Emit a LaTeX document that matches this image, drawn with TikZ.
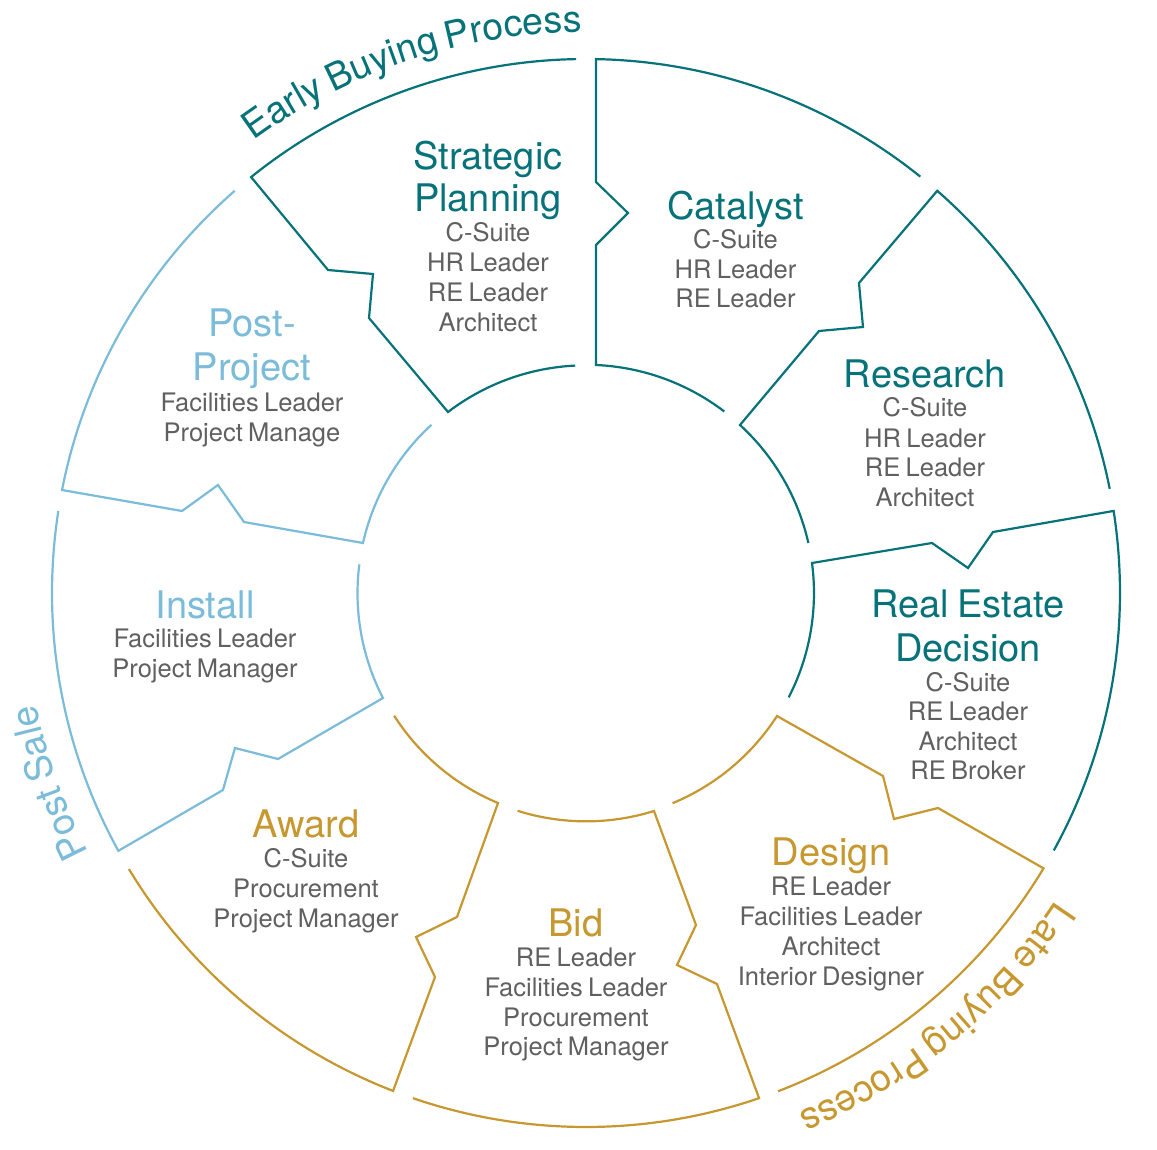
\documentclass[tikz,border=0pt]{standalone}
\usepackage{fontspec}
\setmainfont{TeX Gyre Heros}[WordSpace=0.75]
\usetikzlibrary{decorations.text}
\definecolor{cteal}{RGB}{6,114,121}
\definecolor{cblue}{RGB}{122,188,217}
\definecolor{cgold}{RGB}{200,152,48}
\definecolor{cgray}{RGB}{96,96,96}
\newcommand\headf{\fontsize{38}{42}\selectfont}
\newcommand\bodyf{\fontsize{25.5}{30}\selectfont}
\newcommand\arcf{\fontsize{37.5}{40}\selectfont}
\begin{document}
\begin{tikzpicture}[x=1pt,y=1pt,
  piece/.style={line width=2.2pt, line join=miter},
  head/.style={font=\headf, anchor=base, inner sep=0pt},
  body/.style={font=\bodyf, anchor=base, inner sep=0pt, text=cgray}]
\fill[white] (-586,-556) rectangle (571,593);
\useasboundingbox (-586,-556) rectangle (571,593);

% ---------- pieces ----------
% Catalyst
\draw[piece, cteal] (51.24:534) arc[start angle=51.24, end angle=88.93, radius=534]
  -- (10,411) -- (42,380) -- (10,348) -- (10,228)
  arc[start angle=87.49, end angle=52.68, radius=228];
% Research
\draw[piece, cteal] (11.25:534) arc[start angle=11.25, end angle=48.87, radius=534]
  -- (273,310) -- (277,266) -- (233,262) -- (154,168)
  arc[start angle=47.49, end angle=12.69, radius=228];
% Real Estate Decision
\draw[piece, cteal] (-28.83:534) arc[start angle=-28.83, end angle=8.84, radius=534]
  -- (407,61) -- (382,25) -- (346,50) -- (226,30)
  arc[start angle=7.56, end angle=-27.24, radius=228];
% Design
\draw[piece, cgold] (-68.92:534) arc[start angle=-68.92, end angle=-31.04, radius=534]
  -- (352,-215) -- (308,-226) -- (297,-183) -- (191,-123)
  arc[start angle=-32.78, end angle=-67.5, radius=228];
% Bid
\draw[piece, cgold] (-108.91:534) arc[start angle=-108.91, end angle=-71.09, radius=534]
  -- (131,-391) -- (91,-372) -- (110,-332) -- (68,-218)
  arc[start angle=-72.68, end angle=-107.5, radius=228];
% Award
\draw[piece, cgold] (-148.87:534) arc[start angle=-148.87, end angle=-111.18, radius=534]
  -- (-151,-384) -- (-170,-344) -- (-129,-324) -- (-88,-210)
  arc[start angle=-112.74, end angle=-147.36, radius=228];
% Install
\draw[piece, cblue] (171.17:534) arc[start angle=171.17, end angle=208.87, radius=534]
  -- (-363,-197) -- (-351,-155) -- (-308,-166) -- (-203,-105)
  arc[start angle=207.35, end angle=172.72, radius=228];
% Post-Project
\draw[piece, cblue] (131.13:534) arc[start angle=131.13, end angle=168.88, radius=534]
  -- (-404,82) -- (-368,108) -- (-342,71) -- (-223,50)
  arc[start angle=167.36, end angle=132.51, radius=228];
% Strategic Planning
\draw[piece, cteal] (91.07:534) arc[start angle=91.07, end angle=128.84, radius=534]
  -- (-258,323) -- (-213,319) -- (-217,275) -- (-138,181)
  arc[start angle=127.32, end angle=92.76, radius=228];

% ---------- curved labels ----------
\path[decorate, decoration={text along path, text align=left,
  text={|\arcf\color{cteal}|Early Buying Process}}]
  (126.3:561) arc[start angle=126.3, end angle=82, radius=561];
\path[decorate, decoration={text along path, text align=left,
  text={|\arcf\color{cblue}|Post Sale}}]
  (207.6:561) arc[start angle=207.6, end angle=180, radius=561];
\path[decorate, decoration={text along path, text align=left,
  text={|\arcf\color{cgold}|Late Buying Process}}]
  (-33.2:561) arc[start angle=-33.2, end angle=-78, radius=561];

% ---------- texts ----------
% Strategic Planning
\node[head, text=cteal] (sp1) at (-98,423) {Strategic};
\node[head, text=cteal] (sp2) at (-98,381) {Planning};
\node[body] (sp3) at (-98,351) {C-Suite};
\node[body] (sp4) at (-98,321) {HR Leader};
\node[body] (sp5) at (-98,291) {RE Leader};
\node[body] (sp6) at (-98,261) {Architect};
% Catalyst
\node[head, text=cteal] (ca1) at (149.5,373) {Catalyst};
\node[body] (ca2) at (149.5,344) {C-Suite};
\node[body] (ca3) at (149.5,314) {HR Leader};
\node[body] (ca4) at (149.5,285) {RE Leader};
% Research
\node[head, text=cteal] (re1) at (339,205) {Research};
\node[body] (re2) at (339,176) {C-Suite};
\node[body] (re3) at (339,146) {HR Leader};
\node[body] (re4) at (339,117) {RE Leader};
\node[body] (re5) at (339,87) {Architect};
% Real Estate Decision
\node[head, text=cteal] (rd1) at (382,-24) {Real Estate};
\node[head, text=cteal] (rd2) at (382,-68) {Decision};
\node[body] (rd3) at (382,-98) {C-Suite};
\node[body] (rd4) at (382,-127.5) {RE Leader};
\node[body] (rd5) at (382,-157) {Architect};
\node[body] (rd6) at (382,-186.5) {RE Broker};
% Design
\node[head, text=cgold] (de1) at (245,-272) {Design};
\node[body] (de2) at (245,-302) {RE Leader};
\node[body] (de3) at (245,-332) {Facilities Leader};
\node[body] (de4) at (245,-362) {Architect};
\node[body] (de5) at (245,-392) {Interior Designer};
% Bid
\node[head, text=cgold] (bi1) at (-10,-343) {Bid};
\node[body] (bi2) at (-10,-373) {RE Leader};
\node[body] (bi3) at (-10,-403) {Facilities Leader};
\node[body] (bi4) at (-10,-433) {Procurement};
\node[body] (bi5) at (-10,-462) {Project Manager};
% Award
\node[head, text=cgold] (aw1) at (-280,-244) {Award};
\node[body] (aw2) at (-280,-274) {C-Suite};
\node[body] (aw3) at (-280,-304) {Procurement};
\node[body] (aw4) at (-280,-334) {Project Manager};
% Install
\node[head, text=cblue] (in1) at (-381,-25) {Install};
\node[body] (in2) at (-381,-54) {Facilities Leader};
\node[body] (in3) at (-381,-84) {Project Manager};
% Post-Project
\node[head, text=cblue] (pp1) at (-334,256) {Post-};
\node[head, text=cblue] (pp2) at (-334,212) {Project};
\node[body] (pp3) at (-334,182) {Facilities Leader};
\node[body] (pp4) at (-334,152) {Project Manage};
\end{tikzpicture}
\end{document}
